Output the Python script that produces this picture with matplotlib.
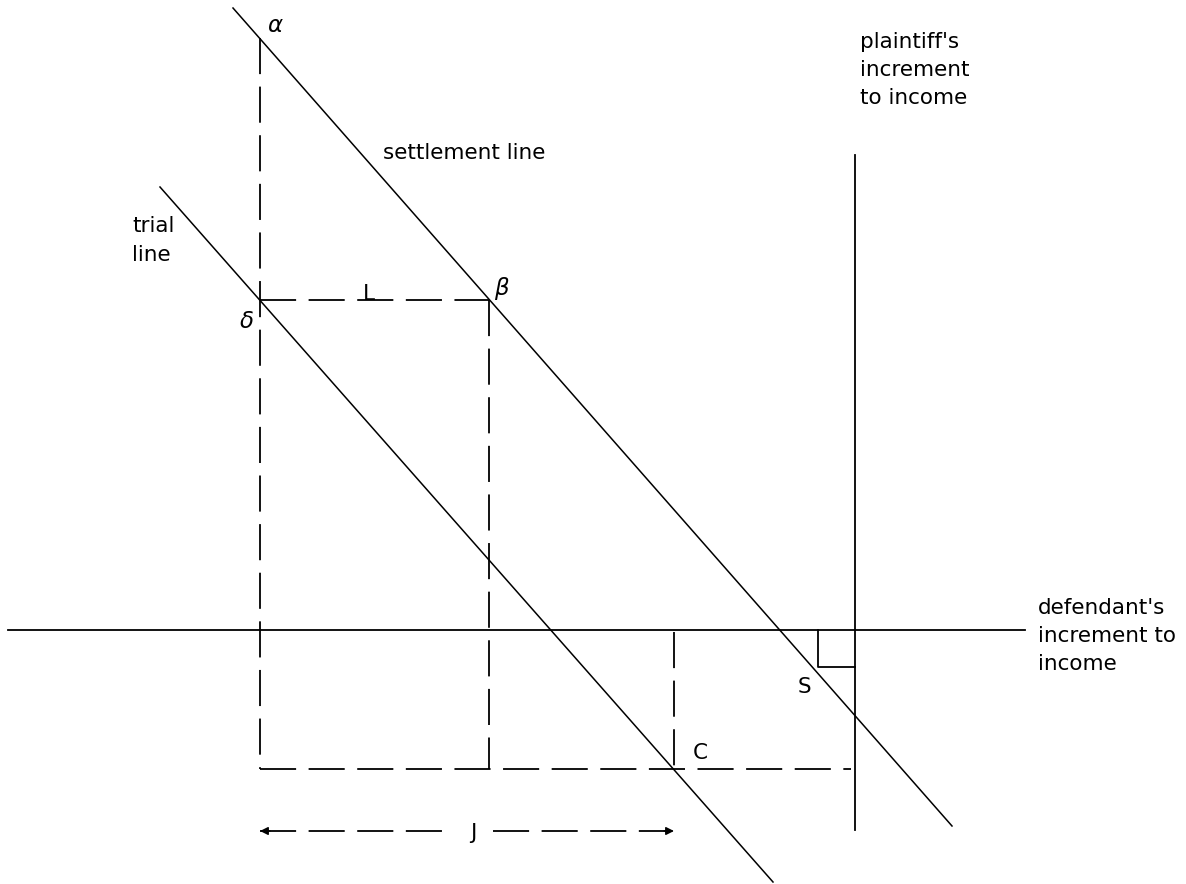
import matplotlib
matplotlib.use("Agg")
import matplotlib.pyplot as plt

plt.rcParams['font.family'] = ['DejaVu Sans']
plt.rcParams['lines.scale_dashes'] = False

# ---- diagram data (origin = intersection of the two income axes) ----
settlement_x = [-622, 97]
settlement_y = [622, -196]
trial_x = [-695, -82]
trial_y = [443, -252]

h_axis_x = [-847, 170]
v_axis_y = [475, -200]

alpha_pt = (-595, 592)
beta_pt = (-366, 330)
delta_pt = (-595, 330)
c_pt = (-181, -139)
corner_size = 37
j_level = -201
j_gap = (-406, -362)

fs = 15.5
lw = 1.1
dash = (26, 9)

fig = plt.figure(figsize=(11.86, 8.84), dpi=100)
ax = fig.add_axes([0, 0, 1, 1])
ax.set_xlim(-855, 331)
ax.set_ylim(-254, 630)
ax.axis('off')

# axes
ax.plot(h_axis_x, [0, 0], color='black', lw=1.3)
ax.plot([0, 0], v_axis_y, color='black', lw=1.3)

# settlement and trial lines
ax.plot(settlement_x, settlement_y, color='black', lw=lw)
ax.plot(trial_x, trial_y, color='black', lw=lw)

# right-angle marker
ax.plot([-corner_size, -corner_size, 0], [0, -corner_size, -corner_size], color='black', lw=1.3)

dk = dict(color='black', lw=1.3, linestyle=(0, dash))
# vertical from alpha through delta
ax.plot([alpha_pt[0], alpha_pt[0]], [alpha_pt[1], c_pt[1]], **dk)
# horizontal delta -> beta
ax.plot([delta_pt[0], beta_pt[0]], [delta_pt[1], beta_pt[1]], **dk)
# vertical from beta down
ax.plot([beta_pt[0], beta_pt[0]], [beta_pt[1], c_pt[1]], **dk)
# vertical from C up to axis
ax.plot([c_pt[0], c_pt[0]], [-2, c_pt[1]], **dk)
# bottom horizontal
ax.plot([alpha_pt[0], -4], [c_pt[1], c_pt[1]], **dk)

# J arrow (dashed with gap for label)
ax.plot([alpha_pt[0], j_gap[0]], [j_level, j_level], **dk)
ax.plot([j_gap[1], c_pt[0] - 4], [j_level, j_level], **dk)
for x0, x1 in [(alpha_pt[0] + 10, alpha_pt[0]), (c_pt[0] - 10, c_pt[0])]:
    ax.annotate('', xy=(x1, j_level), xytext=(x0, j_level),
                arrowprops=dict(arrowstyle='-|>', color='black', lw=1.0,
                                mutation_scale=12, shrinkA=0, shrinkB=0))

# labels
ax.text(-580, 604, r'$\alpha$', fontsize=fs + 1, ha='center', va='center')
ax.text(-353, 342, r'$\beta$', fontsize=fs + 1, ha='center', va='center')
ax.text(-609, 308, r'$\delta$', fontsize=fs + 1, ha='center', va='center')
ax.text(-486, 330, 'L', fontsize=fs, ha='center', va='baseline')
ax.text(-51, -57, 'S', fontsize=fs, ha='center', va='center')
ax.text(-155, -123, 'C', fontsize=fs, ha='center', va='center')
ax.text(-382, -203, 'J', fontsize=fs, ha='center', va='center')

ax.text(-472, 477, 'settlement line', fontsize=fs, ha='left', va='center')
ax.text(-723, 404, 'trial', fontsize=fs, ha='left', va='center')
ax.text(-723, 375, 'line', fontsize=fs, ha='left', va='center')

ax.text(5, 588, "plaintiff's", fontsize=fs, ha='left', va='center')
ax.text(5, 560, 'increment', fontsize=fs, ha='left', va='center')
ax.text(5, 532, 'to income', fontsize=fs, ha='left', va='center')

ax.text(183, 22, "defendant's", fontsize=fs, ha='left', va='center')
ax.text(183, -6, 'increment to', fontsize=fs, ha='left', va='center')
ax.text(183, -34, 'income', fontsize=fs, ha='left', va='center')

fig.savefig('out.png', dpi=100, facecolor='white')
